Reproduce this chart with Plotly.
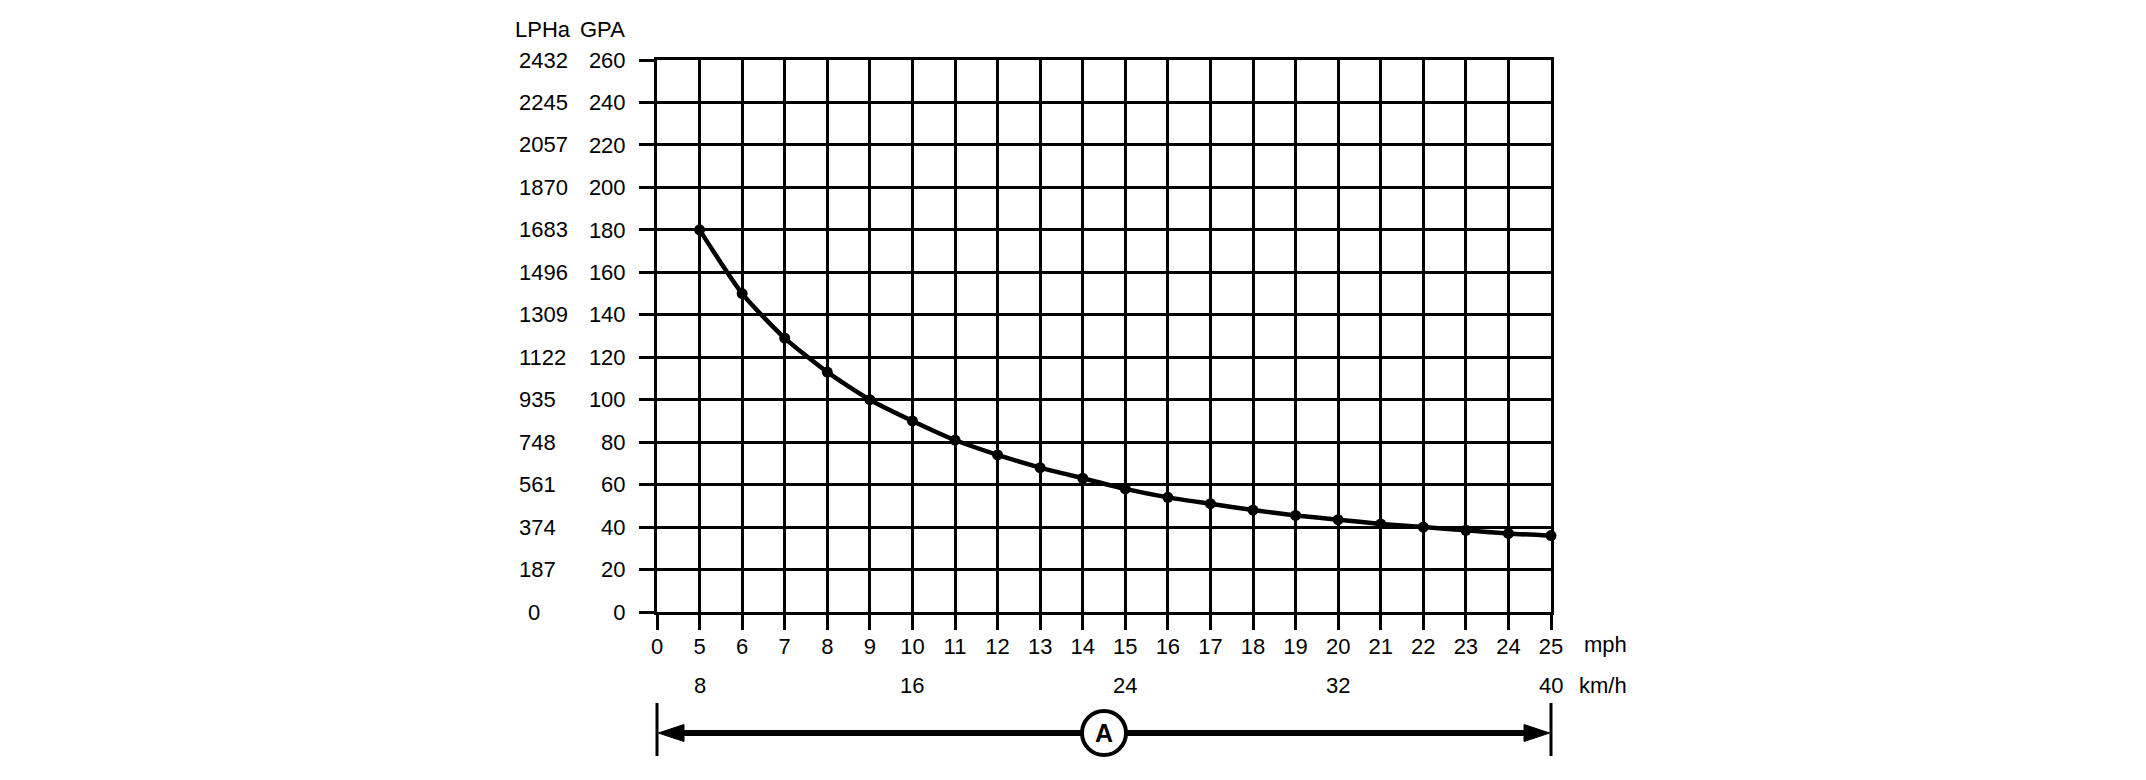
import plotly.graph_objects as go

# ---- data ----
x_tick_labels = ["0"] + [str(v) for v in range(5, 26)]
mph = [5, 6, 7, 8, 9, 10, 11, 12, 13, 14, 15, 16, 17, 18, 19, 20, 21, 22, 23, 24, 25]
gpa = [180, 150, 129, 113, 100, 90, 81, 74, 68, 63, 58, 54, 51, 48, 45.5, 43.5, 41.5, 40, 38.5, 37, 36]
gpa_ticks = [0, 20, 40, 60, 80, 100, 120, 140, 160, 180, 200, 220, 240, 260]
lpha_ticks = [0, 187, 374, 561, 748, 935, 1122, 1309, 1496, 1683, 1870, 2057, 2245, 2432]
kmh_values = [8, 16, 24, 32, 40]
kmh_at_mph = [5, 10, 15, 20, 25]

FONT = "Liberation Sans, Arial, Helvetica, sans-serif"
FS = 22
BODY = 8  # default page margin of the html body
W, H = 2146 - 2 * BODY, 780 - 2 * BODY
# target plot area in window pixels: x 656..1551, y 60..612
ML, MT = 657 - BODY, 60 - BODY
MR = W - (1551 - BODY)
MB = H - (612 - BODY)
PW, PH = W - ML - MR, H - MT - MB
X0 = ML + BODY
Y0 = MT + BODY + PH


def px_x(px):  # window pixel column -> paper x
    return (px - X0) / PW


def px_y(py):  # window pixel row -> paper y
    return (Y0 - py) / PH


fig = go.Figure()
fig.add_trace(go.Scatter(
    x=[x_tick_labels.index(str(m)) for m in mph], y=gpa, mode="lines+markers",
    line=dict(color="black", width=4.5, shape="spline", smoothing=0.6),
    marker=dict(color="black", size=11),
    cliponaxis=False, showlegend=False, hoverinfo="skip",
))

axis_common = dict(
    showgrid=True, gridcolor="black", gridwidth=3,
    showline=True, linecolor="black", linewidth=3, mirror=True,
    ticks="outside", ticklen=15, tickwidth=3, tickcolor="black",
    tickfont=dict(family=FONT, size=FS, color="black"),
    zeroline=False, fixedrange=True,
)

fig.update_layout(
    width=W, height=H, autosize=False,
    margin=dict(l=ML, r=MR, t=MT, b=MB, pad=0),
    paper_bgcolor="white", plot_bgcolor="white",
    font=dict(family=FONT, size=FS, color="black"),
    xaxis=dict(range=[0, len(x_tick_labels) - 1], tickmode="array",
               tickvals=list(range(len(x_tick_labels))), ticktext=x_tick_labels,
               ticklabelstandoff=-2, **axis_common),
    yaxis=dict(range=[0, 260], tickmode="array", tickvals=gpa_ticks,
               ticktext=[str(v) for v in gpa_ticks], ticklabelstandoff=9, **axis_common),
)

ann = []
# LPHa column
for g, l in zip(gpa_ticks, lpha_ticks):
    if l == 0:
        ann.append(dict(x=px_x(534), xref="paper", y=g, yref="y", text=str(l),
                        xanchor="center", yanchor="middle", showarrow=False))
    else:
        ann.append(dict(x=px_x(517), xref="paper", y=g, yref="y", text=str(l),
                        xanchor="left", yanchor="middle", showarrow=False))
# headers
ann.append(dict(x=px_x(513), xref="paper", y=px_y(30), yref="paper", text="LPHa",
                xanchor="left", yanchor="middle", showarrow=False))
ann.append(dict(x=px_x(627), xref="paper", y=px_y(30), yref="paper", text="GPA",
                xanchor="right", yanchor="middle", showarrow=False))
# km/h labels
for k, m in zip(kmh_values, kmh_at_mph):
    ann.append(dict(x=x_tick_labels.index(str(m)), xref="x", y=px_y(685), yref="paper",
                    text=str(k), xanchor="center", yanchor="middle", showarrow=False))
ann.append(dict(x=px_x(1582), xref="paper", y=px_y(644), yref="paper", text="mph",
                xanchor="left", yanchor="middle", showarrow=False))
ann.append(dict(x=px_x(1577), xref="paper", y=px_y(685), yref="paper", text="km/h",
                xanchor="left", yanchor="middle", showarrow=False))

# double arrow "A"
ya = px_y(733)
head_len = 27 / PW
head_half = 8.5 / PH
shapes = [
    dict(type="line", xref="paper", yref="paper", x0=0, x1=0, y0=px_y(703), y1=px_y(756),
         line=dict(color="black", width=3)),
    dict(type="line", xref="paper", yref="paper", x0=1, x1=1, y0=px_y(703), y1=px_y(756),
         line=dict(color="black", width=3)),
    dict(type="line", xref="paper", yref="paper", x0=head_len * 0.8, x1=1 - head_len * 0.8,
         y0=ya, y1=ya, line=dict(color="black", width=6)),
    dict(type="path", xref="paper", yref="paper",
         path=f"M 0.0015 {ya} L {head_len} {ya + head_half} L {head_len} {ya - head_half} Z",
         fillcolor="black", line=dict(color="black", width=1)),
    dict(type="path", xref="paper", yref="paper",
         path=f"M 0.9985 {ya} L {1 - head_len} {ya + head_half} L {1 - head_len} {ya - head_half} Z",
         fillcolor="black", line=dict(color="black", width=1)),
    dict(type="circle", xref="paper", yref="paper",
         x0=0.5 - 22 / PW, x1=0.5 + 22 / PW, y0=ya - 22 / PH, y1=ya + 22 / PH,
         fillcolor="white", line=dict(color="black", width=4)),
]
ann.append(dict(x=0.5, xref="paper", y=ya, yref="paper", text="<b>A</b>",
                xanchor="center", yanchor="middle", showarrow=False,
                font=dict(family=FONT, size=25, color="black")))

fig.update_layout(annotations=ann, shapes=shapes)
fig.write_html("out.html")
